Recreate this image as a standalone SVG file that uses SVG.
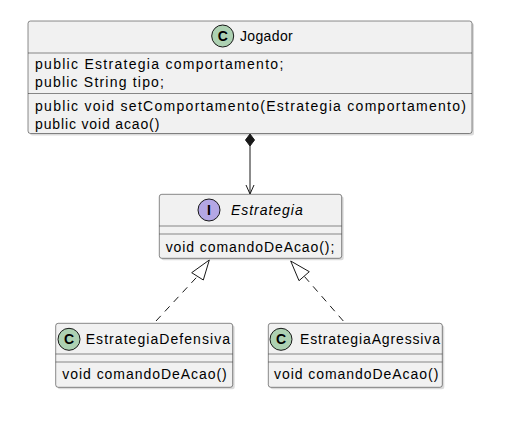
<svg xmlns="http://www.w3.org/2000/svg" width="505" height="428" viewBox="0 0 505 428">
<defs>
<style>
.box{fill:#F1F1F1;stroke:#181818;stroke-width:0.5}
.shadow{fill:#888888;opacity:0.3}
.sep{stroke:#181818;stroke-width:0.5}
text{font-family:"Liberation Sans",Arial,sans-serif;font-size:14px;fill:#000000}
.it{font-style:italic}
.cc{fill:#ADD1B2;stroke:#181818;stroke-width:1}
.ci{fill:#B4A7E5;stroke:#181818;stroke-width:1}
.glyph{font-weight:bold;text-anchor:middle;font-size:14px}
.edge{stroke:#181818;stroke-width:1;fill:none}
.dash{stroke-dasharray:7,6}
.head{stroke:#181818;stroke-width:1;fill:#FFFFFF}
</style>
</defs>
<rect x="0" y="0" width="505" height="428" fill="#FFFFFF"/>

<g id="Jogador">
<rect class="shadow" x="30" y="23" width="444" height="112.5" rx="2.5"/>
<rect class="box" x="28" y="21" width="444" height="112.5" rx="2.5"/>
<line class="sep" x1="28" y1="53" x2="472" y2="53"/>
<line class="sep" x1="28" y1="93.5" x2="472" y2="93.5"/>
<circle class="cc" cx="222.7" cy="36" r="11"/>
<text class="glyph" x="222.7" y="41">C</text>
<text x="240" y="40.5" textLength="52.7" lengthAdjust="spacing">Jogador</text>
<text x="35" y="69" textLength="248.3" lengthAdjust="spacing">public Estrategia comportamento;</text>
<text x="35" y="86.7" textLength="129" lengthAdjust="spacing">public String tipo;</text>
<text x="35" y="111" textLength="431" lengthAdjust="spacing">public void setComportamento(Estrategia comportamento)</text>
<text x="35" y="128.7" textLength="124.3" lengthAdjust="spacing">public void acao()</text>
</g>

<g id="Estrategia">
<rect class="shadow" x="161.3" y="196.3" width="182.4" height="64" rx="2.5"/>
<rect class="box" x="159.3" y="194.3" width="182.4" height="64" rx="2.5"/>
<line class="sep" x1="159.3" y1="226" x2="341.7" y2="226"/>
<line class="sep" x1="159.3" y1="234" x2="341.7" y2="234"/>
<circle class="ci" cx="209" cy="210" r="11"/>
<text class="glyph" x="209" y="215">I</text>
<text class="it" x="231" y="215" textLength="71.7" lengthAdjust="spacing">Estrategia</text>
<text x="165.7" y="251.7" textLength="168.6" lengthAdjust="spacing">void comandoDeAcao();</text>
</g>

<g id="EstrategiaDefensiva">
<rect class="shadow" x="57.7" y="325.3" width="177" height="64" rx="2.5"/>
<rect class="box" x="55.7" y="323.3" width="177" height="64" rx="2.5"/>
<line class="sep" x1="55.7" y1="354" x2="232.7" y2="354"/>
<line class="sep" x1="55.7" y1="362" x2="232.7" y2="362"/>
<circle class="cc" cx="69" cy="339.3" r="11"/>
<text class="glyph" x="69" y="344.3">C</text>
<text x="85.7" y="344" textLength="144.3" lengthAdjust="spacing">EstrategiaDefensiva</text>
<text x="62.3" y="379.3" textLength="164.4" lengthAdjust="spacing">void comandoDeAcao()</text>
</g>

<g id="EstrategiaAgressiva">
<rect class="shadow" x="270.3" y="325.3" width="174" height="64" rx="2.5"/>
<rect class="box" x="268.3" y="323.3" width="174" height="64" rx="2.5"/>
<line class="sep" x1="268.3" y1="354" x2="442.3" y2="354"/>
<line class="sep" x1="268.3" y1="362" x2="442.3" y2="362"/>
<circle class="cc" cx="281" cy="339.3" r="11"/>
<text class="glyph" x="281" y="344.3">C</text>
<text x="300" y="344" textLength="140" lengthAdjust="spacing">EstrategiaAgressiva</text>
<text x="274" y="379.3" textLength="164.3" lengthAdjust="spacing">void comandoDeAcao()</text>
</g>

<g id="connectors">
<polygon points="250,134 254.5,140 250,146 245.5,140" fill="#181818" stroke="#181818" stroke-width="1"/>
<line class="edge" x1="250" y1="146" x2="250" y2="193.5"/>
<polyline class="edge" points="246,185 250,194 254,185"/>
<line class="edge dash" x1="156" y1="321" x2="197.5" y2="276.3"/>
<polygon class="head" points="209.3,260 191.7,272.7 203.3,280"/>
<line class="edge dash" x1="343.3" y1="321" x2="304.2" y2="276.2"/>
<polygon class="head" points="290.7,261 309.3,271.7 299,280.7"/>
</g>
</svg>
